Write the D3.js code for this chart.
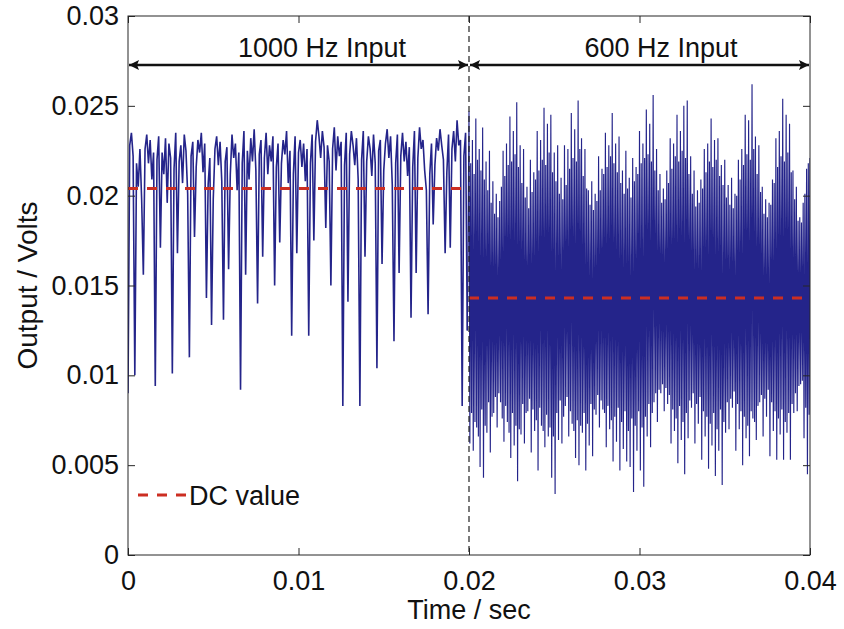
<!DOCTYPE html>
<html><head><meta charset="utf-8">
<script src="https://cdn.jsdelivr.net/npm/d3@7"></script>
<style>
body{margin:0;background:#fff}
svg{display:block}
text{font-family:"Liberation Sans",Arial,Helvetica,sans-serif;fill:#111}
</style>
</head><body><svg id="c" width="844" height="629"></svg>
<script>
// ---- data ----
const segmentStarts = [0, 0.02];          // seconds
const sampleIntervals = [0.0001, 0.00005]; // seconds between samples in each segment
const signal1000Hz = [
0.0090,0.0228,0.0235,0.0222,0.0100,0.0218,0.0205,0.0226,0.0198,0.0156,
0.0226,0.0234,0.0218,0.0231,0.0209,0.0224,0.0094,0.0220,0.0233,0.0171,
0.0224,0.0212,0.0232,0.0196,0.0229,0.0221,0.0101,0.0215,0.0235,0.0168,
0.0219,0.0228,0.0207,0.0234,0.0225,0.0201,0.0110,0.0222,0.0230,0.0177,
0.0216,0.0231,0.0224,0.0235,0.0213,0.0229,0.0143,0.0206,0.0221,0.0128,
0.0198,0.0226,0.0233,0.0217,0.0230,0.0208,0.0131,0.0219,0.0227,0.0159,
0.0212,0.0234,0.0221,0.0229,0.0203,0.0224,0.0092,0.0218,0.0236,0.0156,
0.0225,0.0209,0.0232,0.0219,0.0237,0.0214,0.0140,0.0223,0.0231,0.0166,
0.0221,0.0235,0.0212,0.0228,0.0219,0.0233,0.0150,0.0216,0.0229,0.0174,
0.0218,0.0231,0.0223,0.0236,0.0207,0.0225,0.0122,0.0212,0.0233,0.0168,
0.0224,0.0231,0.0216,0.0229,0.0208,0.0226,0.0122,0.0218,0.0234,0.0175,
0.0230,0.0242,0.0233,0.0221,0.0236,0.0227,0.0182,0.0228,0.0219,0.0150,
0.0226,0.0238,0.0214,0.0233,0.0222,0.0230,0.0083,0.0217,0.0235,0.0141,
0.0223,0.0236,0.0228,0.0217,0.0232,0.0209,0.0083,0.0220,0.0236,0.0166,
0.0219,0.0233,0.0226,0.0211,0.0234,0.0218,0.0104,0.0225,0.0231,0.0162,
0.0214,0.0229,0.0237,0.0221,0.0233,0.0206,0.0119,0.0218,0.0234,0.0157,
0.0222,0.0235,0.0219,0.0230,0.0211,0.0227,0.0132,0.0216,0.0236,0.0157,
0.0221,0.0238,0.0226,0.0231,0.0214,0.0203,0.0134,0.0212,0.0229,0.0184,
0.0217,0.0232,0.0225,0.0237,0.0228,0.0220,0.0168,0.0213,0.0234,0.0171,
0.0226,0.0236,0.0219,0.0242,0.0228,0.0231,0.0083,0.0222,0.0235,0.0125
];
const signal600Hz = [
0.0247,0.0062,0.0218,0.0079, 0.0231,0.0058,0.0212,0.0074, 0.0243,0.0071,0.0220,0.0066,
0.0226,0.0049,0.0214,0.0081, 0.0238,0.0043,0.0209,0.0072, 0.0219,0.0068,0.0203,0.0085,
0.0225,0.0057,0.0196,0.0077, 0.0208,0.0079,0.0190,0.0088, 0.0201,0.0071,0.0188,0.0090,
0.0197,0.0085,0.0205,0.0076, 0.0225,0.0063,0.0211,0.0083, 0.0229,0.0074,0.0217,0.0068,
0.0244,0.0054,0.0219,0.0079, 0.0236,0.0061,0.0223,0.0072, 0.0252,0.0041,0.0216,0.0070,
0.0228,0.0067,0.0207,0.0084, 0.0226,0.0062,0.0199,0.0079, 0.0205,0.0080,0.0193,0.0087,
0.0220,0.0057,0.0202,0.0081, 0.0213,0.0069,0.0209,0.0075, 0.0236,0.0047,0.0214,0.0082,
0.0231,0.0072,0.0220,0.0069, 0.0249,0.0060,0.0217,0.0078, 0.0240,0.0066,0.0224,0.0071,
0.0245,0.0043,0.0213,0.0066, 0.0224,0.0034,0.0208,0.0079, 0.0228,0.0064,0.0201,0.0086,
0.0210,0.0062,0.0198,0.0077, 0.0228,0.0083,0.0206,0.0088, 0.0226,0.0066,0.0215,0.0080,
0.0246,0.0073,0.0221,0.0069, 0.0237,0.0054,0.0219,0.0075, 0.0253,0.0050,0.0226,0.0072,
0.0232,0.0068,0.0211,0.0079, 0.0226,0.0047,0.0204,0.0073, 0.0203,0.0061,0.0195,0.0084,
0.0208,0.0055,0.0192,0.0081, 0.0201,0.0078,0.0197,0.0089, 0.0222,0.0071,0.0203,0.0086,
0.0215,0.0081,0.0212,0.0079, 0.0235,0.0060,0.0216,0.0083, 0.0228,0.0070,0.0222,0.0075,
0.0246,0.0052,0.0218,0.0077, 0.0229,0.0063,0.0213,0.0082, 0.0233,0.0047,0.0207,0.0074,
0.0214,0.0059,0.0201,0.0080, 0.0225,0.0052,0.0204,0.0069, 0.0210,0.0049,0.0199,0.0076,
0.0221,0.0035,0.0208,0.0072, 0.0216,0.0058,0.0212,0.0080, 0.0236,0.0047,0.0218,0.0071,
0.0229,0.0038,0.0221,0.0077, 0.0248,0.0066,0.0223,0.0084, 0.0240,0.0060,0.0219,0.0079,
0.0256,0.0085,0.0214,0.0090, 0.0226,0.0074,0.0203,0.0092, 0.0212,0.0090,0.0196,0.0095,
0.0204,0.0080,0.0198,0.0093, 0.0214,0.0084,0.0207,0.0089, 0.0232,0.0062,0.0215,0.0081,
0.0229,0.0069,0.0222,0.0076, 0.0245,0.0051,0.0219,0.0083, 0.0236,0.0064,0.0225,0.0074,
0.0250,0.0045,0.0221,0.0079, 0.0253,0.0065,0.0212,0.0086, 0.0222,0.0082,0.0201,0.0090,
0.0214,0.0062,0.0194,0.0084, 0.0203,0.0073,0.0196,0.0088, 0.0209,0.0053,0.0204,0.0080,
0.0226,0.0066,0.0213,0.0077, 0.0229,0.0048,0.0219,0.0073, 0.0243,0.0061,0.0216,0.0079,
0.0231,0.0044,0.0220,0.0070, 0.0232,0.0058,0.0211,0.0081, 0.0217,0.0039,0.0206,0.0074,
0.0220,0.0068,0.0199,0.0085, 0.0206,0.0070,0.0195,0.0087, 0.0210,0.0082,0.0193,0.0091,
0.0201,0.0058,0.0200,0.0084, 0.0220,0.0070,0.0209,0.0080, 0.0226,0.0050,0.0217,0.0077,
0.0245,0.0065,0.0223,0.0072, 0.0242,0.0055,0.0220,0.0080, 0.0262,0.0076,0.0226,0.0074,
0.0233,0.0064,0.0212,0.0083, 0.0228,0.0085,0.0202,0.0089, 0.0205,0.0066,0.0190,0.0087,
0.0198,0.0077,0.0188,0.0092, 0.0196,0.0055,0.0195,0.0085, 0.0209,0.0069,0.0207,0.0080,
0.0232,0.0053,0.0216,0.0076, 0.0236,0.0067,0.0222,0.0081, 0.0254,0.0053,0.0219,0.0074,
0.0245,0.0068,0.0224,0.0079, 0.0240,0.0053,0.0213,0.0084, 0.0214,0.0079,0.0198,0.0090,
0.0205,0.0080,0.0186,0.0094, 0.0188,0.0095,0.0185,0.0097, 0.0196,0.0065,0.0201,0.0082,
0.0215,0.0045,0.0218,0.0078,
0.0221
];
const dcSegments = [[0, 0.02], [0.02, 0.04]];
const dcValues = [0.0204, 0.0143];
const inputLabels = ["1000 Hz Input", "600 Hz Input"];
const xTickValues = [0, 0.01, 0.02, 0.03, 0.04];
const xTickLabels = ["0", "0.01", "0.02", "0.03", "0.04"];
const yTickValues = [0, 0.005, 0.01, 0.015, 0.02, 0.025, 0.03];
const yTickLabels = ["0", "0.005", "0.01", "0.015", "0.02", "0.025", "0.03"];
const xTitle = "Time / sec";
const yTitle = "Output / Volts";
const legendLabel = "DC value";

// ---- layout ----
const L = 128, R = 810, T = 16, B = 555;
const fs = 27;
const svg = d3.select("#c");
const x = d3.scaleLinear().domain([0, 0.04]).range([L, R]);
const y = d3.scaleLinear().domain([0, 0.03]).range([B, T]);

const pts1 = signal1000Hz.map((v, i) => [segmentStarts[0] + i * sampleIntervals[0], v]);
const pts2 = [pts1[pts1.length - 1]].concat(
  signal600Hz.map((v, i) => [segmentStarts[1] + i * sampleIntervals[1], v]));

const defs = svg.append("defs");
defs.append("clipPath").attr("id", "clip")
  .append("rect").attr("x", L).attr("y", T).attr("width", R - L).attr("height", B - T);

const line = d3.line().x(d => x(d[0])).y(d => y(d[1]));
// signal
[[pts1, 1.6], [pts2, 1.15]].forEach(([p, w]) => {
  svg.append("path").datum(p)
    .attr("clip-path", "url(#clip)")
    .attr("fill", "none").attr("stroke", "#24248a").attr("stroke-width", w)
    .attr("stroke-linejoin", "miter").attr("stroke-miterlimit", 2)
    .attr("d", line);
});

// DC lines
dcSegments.forEach((s, i) => {
  svg.append("line")
    .attr("x1", x(s[0])).attr("x2", x(s[1]))
    .attr("y1", y(dcValues[i])).attr("y2", y(dcValues[i]))
    .attr("stroke", "#cc2e22").attr("stroke-width", 3)
    .attr("stroke-dasharray", "10,9");
});

// vertical divider
svg.append("line")
  .attr("x1", x(0.02)).attr("x2", x(0.02)).attr("y1", T).attr("y2", B)
  .attr("stroke", "#222").attr("stroke-width", 1.2).attr("stroke-dasharray", "6,4");

// axes
const axisStyle = g => {
  g.select(".domain").remove();
  g.selectAll(".tick line").attr("stroke", "#262626");
  g.selectAll("text").attr("font-size", fs).attr("fill", "#111")
    .attr("font-family", '"Liberation Sans",Arial,sans-serif');
};
svg.append("g").attr("transform", `translate(0,${B})`)
  .call(d3.axisBottom(x).tickValues(xTickValues).tickFormat((d, i) => xTickLabels[i])
    .tickSizeInner(-7).tickSizeOuter(0).tickPadding(16))
  .call(axisStyle);
svg.append("g").attr("transform", `translate(0,${T})`)
  .call(d3.axisTop(x).tickValues(xTickValues).tickFormat(() => "")
    .tickSizeInner(-7).tickSizeOuter(0))
  .call(axisStyle);
svg.append("g").attr("transform", `translate(${L},0)`)
  .call(d3.axisLeft(y).tickValues(yTickValues).tickFormat((d, i) => yTickLabels[i])
    .tickSizeInner(-7).tickSizeOuter(0).tickPadding(9))
  .call(axisStyle);
svg.append("g").attr("transform", `translate(${R},0)`)
  .call(d3.axisRight(y).tickValues(yTickValues).tickFormat(() => "")
    .tickSizeInner(-7).tickSizeOuter(0))
  .call(axisStyle);

// box
svg.append("rect").attr("x", L).attr("y", T).attr("width", R - L).attr("height", B - T)
  .attr("fill", "none").attr("stroke", "#262626").attr("stroke-width", 1);

// arrows
defs.append("marker").attr("id", "ah").attr("viewBox", "0 0 10 10")
  .attr("refX", 10).attr("refY", 5).attr("markerWidth", 16).attr("markerHeight", 10)
  .attr("markerUnits", "userSpaceOnUse").attr("orient", "auto-start-reverse")
  .append("path").attr("d", "M0,0L10,5L0,10L2,5Z").attr("fill", "#111");
const arrowY = 65;
dcSegments.forEach((s, i) => {
  svg.append("line")
    .attr("x1", x(s[0]) + 1).attr("x2", x(s[1]) - 1)
    .attr("y1", arrowY).attr("y2", arrowY)
    .attr("stroke", "#111").attr("stroke-width", 2.4)
    .attr("marker-start", "url(#ah)").attr("marker-end", "url(#ah)");
  svg.append("text")
    .attr("x", i === 0 ? 322 : 661).attr("y", 57)
    .attr("text-anchor", "middle").attr("font-size", fs)
    .text(inputLabels[i]);
});

// legend
svg.append("line").attr("x1", 138).attr("x2", 186).attr("y1", 495).attr("y2", 495)
  .attr("stroke", "#cc2e22").attr("stroke-width", 3).attr("stroke-dasharray", "10,9");
svg.append("text").attr("x", 189).attr("y", 505).attr("font-size", fs).text(legendLabel);

// titles
svg.append("text").attr("x", (L + R) / 2).attr("y", 619)
  .attr("text-anchor", "middle").attr("font-size", fs).text(xTitle);
svg.append("text").attr("transform", `translate(37,${(T + B) / 2}) rotate(-90)`)
  .attr("text-anchor", "middle").attr("font-size", 28).text(yTitle);
</script></body></html>
